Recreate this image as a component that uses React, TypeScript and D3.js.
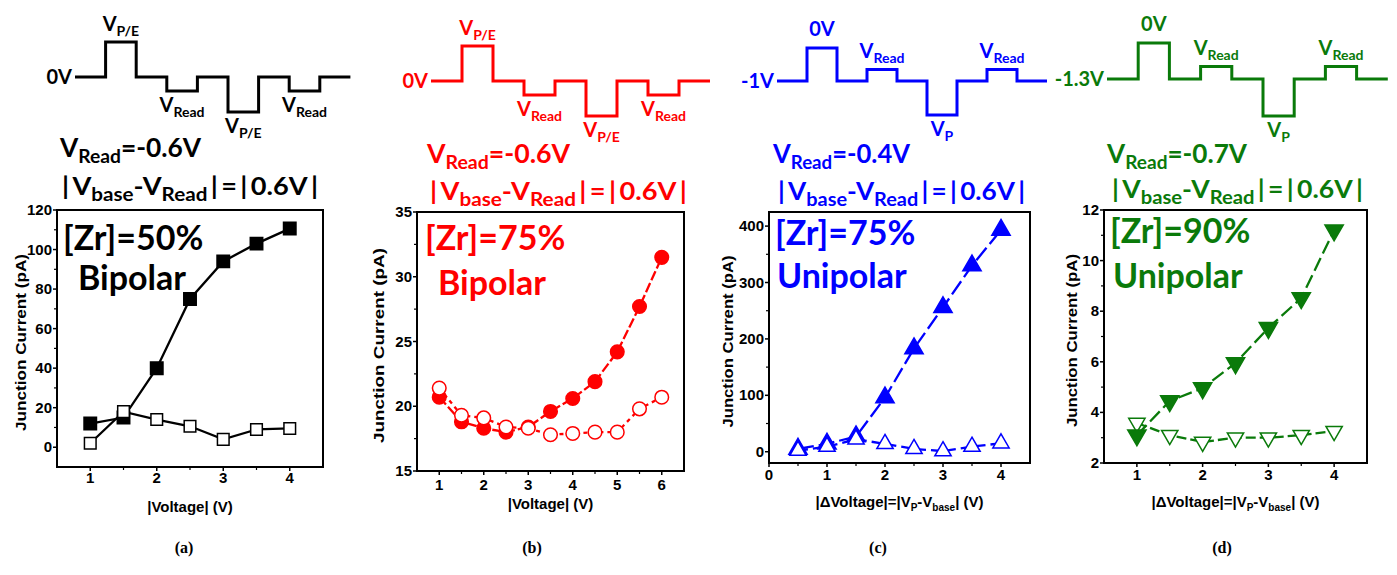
import React from 'react';
import * as d3 from 'd3';

// ---- data ----
const xA = [1, 1.5, 2, 2.5, 3, 3.5, 4];
const aFilled = [12, 15, 40, 75, 94, 103, 110.6];
const aOpen = [2, 18, 14, 10.6, 4, 9, 9.5];
const aYTicks = [0, 20, 40, 60, 80, 100, 120];
const aXTicks = [1, 2, 3, 4];

const xB = [1, 1.5, 2, 2.5, 3, 3.5, 4, 4.5, 5, 5.5, 6];
const bFilled = [20.7, 18.8, 18.3, 18.0, 18.4, 19.6, 20.6, 21.9, 24.2, 27.7, 31.5];
const bOpen = [21.4, 19.3, 19.1, 18.4, 18.3, 17.8, 17.9, 18.0, 18.0, 19.8, 20.7];
const bYTicks = [15, 20, 25, 30, 35];
const bXTicks = [1, 2, 3, 4, 5, 6];

const xC = [0.5, 1, 1.5, 2, 2.5, 3, 3.5, 4];
const cFilled = [5, 14, 27, 96, 183, 256, 330, 393];
const cOpen = [2, 9, 22, 14, 5, 1, 9, 15];
const cYTicks = [0, 100, 200, 300, 400];
const cXTicks = [0, 1, 2, 3, 4];

const xD = [1, 1.5, 2, 2.5, 3, 3.5, 4];
const dFilled = [3.1, 4.45, 4.96, 5.95, 7.34, 8.52, 11.2];
const dOpen = [3.58, 3.1, 2.83, 3.0, 3.0, 3.1, 3.26];
const dYTicks = [2, 4, 6, 8, 10, 12];
const dXTicks = [1, 2, 3, 4];

// pulse-train levels (schematic), one per segment
const bipolarLevels = [0, 1, 0, -0.4, 0, -1, 0, -0.4, 0];
const unipolarLevels = [0, 1, 0, 0.35, 0, -1.03, 0, 0.35, 0];

const captions = ['(a)', '(b)', '(c)', '(d)'];

type Part = { t: string; sub?: boolean };

const FONT = 'Lato, "Open Sans", sans-serif';
const AX_FONT = '"Liberation Sans", Arial, sans-serif';

function Rich({ x, y, parts, size, subSize, subDy, fill, anchor = 'start', len }: any) {
  let cur = 0;
  return (
    <text x={x} y={y} fontSize={size} fill={fill} textAnchor={anchor} fontFamily={FONT} fontWeight="bold"
      textLength={len} lengthAdjust={len ? 'spacingAndGlyphs' : undefined}>
      {parts.map((p: Part, i: number) => {
        const target = p.sub ? subDy : 0;
        const dy = target - cur;
        cur = target;
        return <tspan key={i} dy={dy} fontSize={p.sub ? subSize : size}>{p.t}</tspan>;
      })}
    </text>
  );
}

const VRead: Part[] = [{ t: 'V' }, { t: 'Read', sub: true }];
const VPE: Part[] = [{ t: 'V' }, { t: 'P/E', sub: true }];
const VP: Part[] = [{ t: 'V' }, { t: 'P', sub: true }];
const ZeroV: Part[] = [{ t: '0V' }];

const panels = [
  {
    color: '#000000', x: xA, filled: aFilled, open: aOpen, xDom: [0.5, 4.5], yDom: [-10, 120],
    yTicks: aYTicks, xTicks: aXTicks, frame: [57, 210, 323, 467], shape: 'square', dash: [null, null],
    zr: '[Zr]=50%', mode: 'Bipolar', zrPos: [63, 250], modePos: [78, 290],
    xlab: [{ t: '|Voltage| (V)' }], xlabY: 512, tickY: 483, ylabX: 20, ylabLen: 177,
    wave: { x0: 75, segW: 30.6, baseY: 77, unit: 35, levels: bipolarLevels, start: '0V' },
    waveLabels: [[1, 'above', VPE], [3, 'below', VRead], [5, 'below', VPE], [7, 'below', VRead]],
    vread: '-0.6V', h1: [60, 157, 141], h2: [62, 195, 256], cap: 184, openOnTop: true,
  },
  {
    color: '#ff0000', x: xB, filled: bFilled, open: bOpen, xDom: [0.5, 6.5], yDom: [15, 35],
    yTicks: bYTicks, xTicks: bXTicks, frame: [417, 212, 684, 471], shape: 'circle', dash: ['10,3', '4,4'],
    zr: '[Zr]=75%', mode: 'Bipolar', zrPos: [425, 250], modePos: [438, 295],
    xlab: [{ t: '|Voltage| (V)' }], xlabY: 509, tickY: 490, ylabX: 378, ylabLen: 195,
    wave: { x0: 431, segW: 31, baseY: 81, unit: 35, levels: bipolarLevels, start: '0V' },
    waveLabels: [[1, 'above', VPE], [3, 'below', VRead], [5, 'below', VPE], [7, 'below', VRead]],
    vread: '-0.6V', h1: [427, 163, 143], h2: [430, 200, 257], cap: 532, openOnTop: true,
  },
  {
    color: '#0000ff', x: xC, filled: cFilled, open: cOpen, xDom: [0, 4.5], yDom: [-20, 425],
    yTicks: cYTicks, xTicks: cXTicks, frame: [769, 212, 1030, 463], shape: 'tri', dash: ['16,5', '10,5'],
    zr: '[Zr]=75%', mode: 'Unipolar', zrPos: [775, 245], modePos: [777, 288],
    xlab: [{ t: '|\u0394Voltage|=|V' }, { t: 'P', sub: true }, { t: '-V' }, { t: 'base', sub: true }, { t: '| (V)' }],
    xlabY: 507, tickY: 480, ylabX: 727, ylabLen: 172,
    wave: { x0: 777, segW: 30, baseY: 81, unit: 33, levels: unipolarLevels, start: '-1V' },
    waveLabels: [[1, 'above', ZeroV], [3, 'above', VRead], [5, 'below', VP], [7, 'above', VRead]],
    vread: '-0.4V', h1: [773, 163, 137], h2: [778, 200, 247], cap: 878, openOnTop: true,
  },
  {
    color: '#0a7a0a', x: xD, filled: dFilled, open: dOpen, xDom: [0.5, 4.5], yDom: [2, 12],
    yTicks: dYTicks, xTicks: dXTicks, frame: [1104, 210, 1367, 463], shape: 'tridown', dash: ['14,5', '10,4'],
    zr: '[Zr]=90%', mode: 'Unipolar', zrPos: [1110, 243], modePos: [1113, 288],
    xlab: [{ t: '|\u0394Voltage|=|V' }, { t: 'P', sub: true }, { t: '-V' }, { t: 'base', sub: true }, { t: '| (V)' }],
    xlabY: 507, tickY: 480, ylabX: 1071, ylabLen: 173,
    wave: { x0: 1107, segW: 31.2, baseY: 79, unit: 36, levels: unipolarLevels, start: '-1.3V' },
    waveLabels: [[1, 'above', ZeroV], [3, 'above', VRead], [5, 'below', VP], [7, 'above', VRead]],
    vread: '-0.7V', h1: [1107, 163, 140], h2: [1112, 198, 251], cap: 1222, openOnTop: false,
  },
];

function Marker({ shape, x, y, filled, color }: any) {
  const sw = 1.5;
  const fill = filled ? color : '#fff';
  if (shape === 'square') {
    const p = d3.symbol().type(d3.symbolSquare).size(filled ? 155 : 135)();
    return <path d={p as string} transform={`translate(${x},${y})`} fill={fill} stroke={color} strokeWidth={sw} />;
  }
  if (shape === 'circle') {
    return <circle cx={x} cy={y} r={6.8} fill={fill} stroke={color} strokeWidth={sw} />;
  }
  const p = d3.symbol().type(d3.symbolTriangle).size(filled ? 145 : 115)();
  const rot = shape === 'tridown' ? 180 : 0;
  return <path d={p as string} transform={`translate(${x},${y}) rotate(${rot})`} fill={fill} stroke={color} strokeWidth={sw} />;
}

function Panel({ p }: any) {
  const [l, t, r, b] = p.frame;
  const xs = d3.scaleLinear().domain(p.xDom).range([l, r]);
  const ys = d3.scaleLinear().domain(p.yDom).range([b, t]);
  const line = d3.line<number>().x((_, i) => xs(p.x[i])).y((v) => ys(v));
  const yStep = p.yTicks[1] - p.yTicks[0];
  const yMinor = p.yTicks.slice(0, -1).map((v: number) => v + yStep / 2).filter((v: number) => v > p.yDom[0] && v < p.yDom[1]);
  const xMinor = d3.range(Math.ceil(p.xDom[0] * 2) / 2, p.xDom[1] + 0.01, 0.5).filter((v: number) => !p.xTicks.includes(v) && v > p.xDom[0] && v < p.xDom[1]);

  // waveform
  const w = p.wave;
  const n = w.levels.length;
  const wx = d3.scaleLinear().domain([0, n]).range([w.x0, w.x0 + n * w.segW]);
  const wy = d3.scaleLinear().domain([0, 1]).range([w.baseY, w.baseY - w.unit]);
  const pts = d3.range(n + 1).map((i) => [wx(i), wy(w.levels[Math.min(i, n - 1)])] as [number, number]);
  const wave = d3.line().curve(d3.curveStepAfter)(pts);

  const filledMarks = p.x.map((xv: number, i: number) => (
    <Marker key={'f' + i} shape={p.shape} x={xs(xv)} y={ys(p.filled[i])} filled color={p.color} />
  ));
  const openMarks = p.x.map((xv: number, i: number) => (
    <Marker key={'o' + i} shape={p.shape} x={xs(xv)} y={ys(p.open[i])} filled={false} color={p.color} />
  ));

  return (
    <g>
      {/* pulse scheme */}
      <path d={wave as string} fill="none" stroke={p.color} strokeWidth={3} />
      <text x={w.x0 - 3} y={w.baseY + 7} fontSize={20} fontFamily={FONT} fontWeight="bold" fill={p.color} textAnchor="end">{w.start}</text>
      {p.waveLabels.map(([seg, pos, parts]: any, i: number) => {
        const cx = wx(seg + 0.5);
        const ly = wy(w.levels[seg]);
        const y = pos === 'above' ? ly - (parts.length > 1 ? 11 : 12) : ly + 21;
        return <Rich key={i} x={cx} y={y} parts={parts} size={20} subSize={14} subDy={5} fill={p.color} anchor="middle" />;
      })}
      <Rich x={p.h1[0]} y={p.h1[1]} parts={[{ t: 'V' }, { t: 'Read', sub: true }, { t: '=' + p.vread }]} size={26} subSize={19} subDy={6} fill={p.color} len={p.h1[2]} />
      <Rich x={p.h2[0]} y={p.h2[1]} parts={[{ t: '|\u2009V' }, { t: 'base', sub: true }, { t: '-V' }, { t: 'Read', sub: true }, { t: '\u2009|\u2009=\u2009|\u20090.6V\u2009|' }]} size={25} subSize={19} subDy={6} fill={p.color} len={p.h2[2]} />

      {/* data */}
      <path d={line(p.open) as string} fill="none" stroke={p.color} strokeWidth={2.3} strokeDasharray={p.dash[1] || undefined} />
      <path d={line(p.filled) as string} fill="none" stroke={p.color} strokeWidth={2.3} strokeDasharray={p.dash[0] || undefined} />
      {p.openOnTop ? <>{filledMarks}{openMarks}</> : <>{openMarks}{filledMarks}</>}

      {/* frame and axes */}
      <rect x={l} y={t} width={r - l} height={b - t} fill="none" stroke="#000" strokeWidth={2} />
      {p.yTicks.map((v: number) => (
        <g key={'y' + v}>
          <line x1={l - 4} x2={l} y1={ys(v)} y2={ys(v)} stroke="#000" strokeWidth={1.5} />
          <text x={l - 5} y={ys(v) + 5} fontSize={15} fontFamily={AX_FONT} fontWeight="bold" textAnchor="end">{v}</text>
        </g>
      ))}
      {yMinor.map((v: number) => <line key={'ym' + v} x1={l - 3} x2={l} y1={ys(v)} y2={ys(v)} stroke="#000" strokeWidth={1.2} />)}
      {p.xTicks.map((v: number) => (
        <g key={'x' + v}>
          <line x1={xs(v)} x2={xs(v)} y1={b} y2={b + 4} stroke="#000" strokeWidth={1.5} />
          <text x={xs(v)} y={p.tickY} fontSize={15} fontFamily={AX_FONT} fontWeight="bold" textAnchor="middle">{v}</text>
        </g>
      ))}
      {xMinor.map((v: number) => <line key={'xm' + v} x1={xs(v)} x2={xs(v)} y1={b} y2={b + 3} stroke="#000" strokeWidth={1.2} />)}
      <text transform={`translate(${p.ylabX},${(t + b) / 2 + 4}) rotate(-90)`} dominantBaseline="central" textAnchor="middle"
        fontSize={15} fontFamily={AX_FONT} fontWeight="bold" textLength={p.ylabLen} lengthAdjust="spacingAndGlyphs">Junction Current (pA)</text>
      <text x={(l + r) / 2} y={p.xlabY} fontSize={15} fontFamily={AX_FONT} fontWeight="bold" textAnchor="middle">
        {(() => {
          let cur = 0;
          return p.xlab.map((q: Part, i: number) => {
            const target = q.sub ? 4 : 0;
            const dy = target - cur;
            cur = target;
            return <tspan key={i} dy={dy} fontSize={q.sub ? 10 : 15}>{q.t}</tspan>;
          });
        })()}
      </text>

      {/* labels in plot */}
      <text x={p.zrPos[0]} y={p.zrPos[1]} fontSize={34} fontFamily={FONT} fontWeight="bold" fill={p.color}>{p.zr}</text>
      <text x={p.modePos[0]} y={p.modePos[1]} fontSize={34} fontFamily={FONT} fontWeight="bold" fill={p.color}>{p.mode}</text>

      <text x={p.cap} y={553} fontSize={16} fontFamily='"Liberation Serif", serif' fontWeight="bold" textAnchor="middle">
        {captions[panels.indexOf(p)]}
      </text>
    </g>
  );
}

export default function App() {
  return (
    <svg width={1397} height={575} style={{ position: 'absolute', left: 0, top: 0, background: '#fff' }}>
      <rect width={1397} height={575} fill="#fff" />
      {panels.map((p, i) => <Panel key={i} p={p} />)}
    </svg>
  );
}
